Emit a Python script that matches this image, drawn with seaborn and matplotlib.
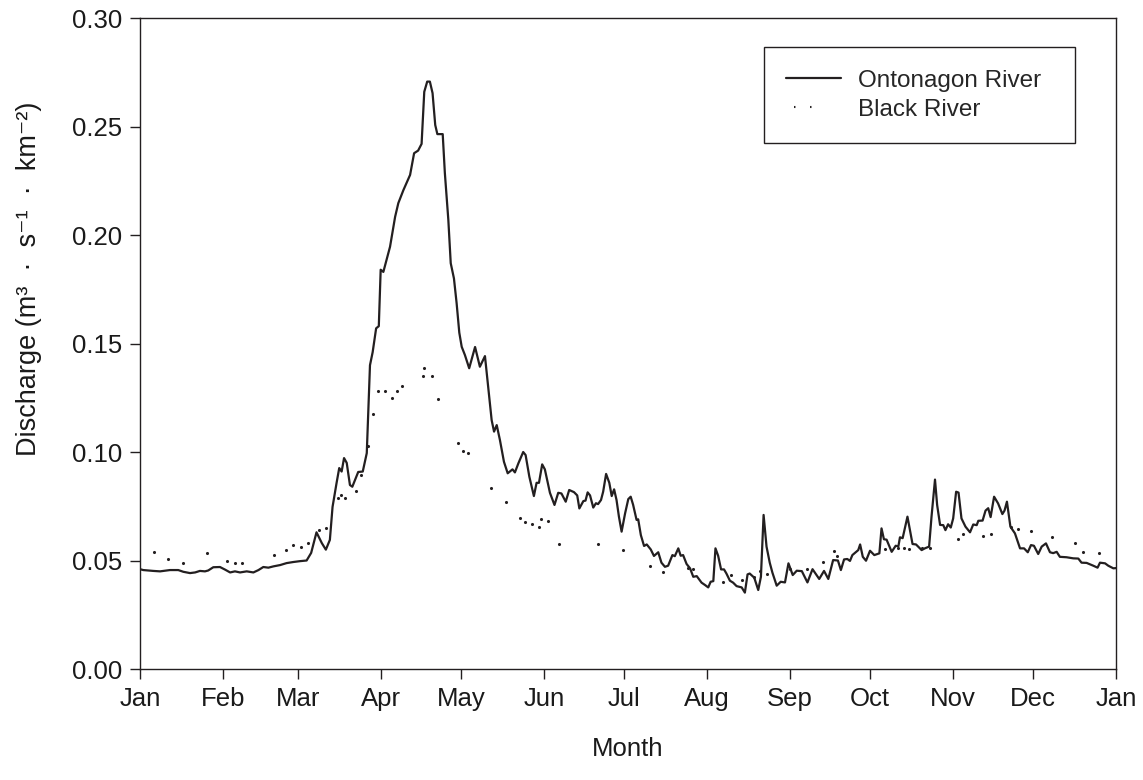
import matplotlib
matplotlib.use("Agg")
import matplotlib.pyplot as plt
from matplotlib.lines import Line2D
import seaborn as sns

# Daily discharge (day of year, m3 s-1 km-2)
ont_day = [0, 1.2, 5, 7.5, 11.2, 14.3, 16.2, 18.7, 20.6, 22.4,
           24.3, 25.5, 27.4, 29.9, 31.8, 33.7, 35.5, 37.4, 39.9, 42.4,
           44.3, 46.1, 48, 49.9, 52.4, 54.8, 57.3, 59.8, 62.3, 64,
           66, 68, 69.5, 71, 72, 73.5, 74.5, 75.4, 76.3, 77.3,
           78.5, 79.4, 81.6, 83.3, 84.8, 86, 87, 88.3, 89.3, 90,
           91, 93.5, 95.4, 96.6, 98.5, 101, 102.5, 104, 105.3, 106.3,
           107.4, 108.4, 109.4, 110.4, 111.2, 113.2, 114, 115.3, 116.2, 117.4,
           118.4, 119.4, 120.3, 121.5, 123.1, 125.3, 127.1, 129, 130.3, 131.5,
           132.4, 133.4, 134.6, 136.1, 137.5, 139.3, 140.2, 141.5, 143.3, 144.2,
           145.6, 147.3, 148.3, 149.2, 150.4, 151.4, 153.3, 155, 156.4, 157.6,
           159.2, 160.5, 162.3, 163.5, 164.3, 165.8, 166.6, 167.4, 168.3, 169.5,
           170.5, 171.3, 172.4, 173.2, 174.3, 175.5, 176.4, 177.3, 178.2, 179.1,
           180.1, 181.4, 182.6, 183.5, 184.4, 185.7, 186.3, 187.3, 188.5, 189.5,
           191, 192.2, 193.8, 195, 196.3, 197.5, 199.1, 200, 201.3, 202.2,
           203.1, 204.4, 205.7, 206.9, 208.2, 210, 211.3, 212.5, 213.4, 214.4,
           215.2, 216.2, 217.3, 218.4, 219.3, 220.6, 221.8, 223.1, 225, 226.2,
           227.2, 228, 229.7, 231.2, 232.2, 233.2, 234.3, 235.5, 236.5, 238.1,
           239.6, 241.2, 242.5, 244.1, 245.6, 247.5, 249.6, 251.5, 254, 255.8,
           257.4, 259.2, 261, 262.1, 263.3, 264.5, 265.5, 266.4, 268.6, 269.3,
           270.3, 271.5, 273, 274.6, 276.5, 277.3, 278.2, 279.2, 281.1, 282.6,
           283.6, 284.2, 285.2, 287, 288.9, 290.2, 292.3, 293.5, 295.1, 296,
           297.3, 298.1, 299.2, 300.4, 301.2, 302.2, 303.2, 304.1, 305.2, 306.1,
           307.2, 308.7, 310.4, 311.6, 312.9, 313.5, 315.1, 316.2, 317.2, 318.1,
           319.4, 320.9, 322.5, 323.3, 324.2, 325.5, 327.2, 329.1, 330.6, 332,
           333.2, 334.3, 335.9, 337.2, 338.8, 340.3, 341.5, 342.8, 344, 346.5,
           349, 350.9, 352.1, 354, 356.5, 358.1, 359, 360.9, 362.1, 364,
           365]
ont_q = [0.046, 0.0456, 0.0452, 0.045, 0.0456, 0.0456, 0.0448, 0.0442, 0.0445, 0.0452,
         0.045, 0.0454, 0.0469, 0.047, 0.0458, 0.0445, 0.045, 0.0445, 0.045, 0.0445,
         0.0456, 0.047, 0.0467, 0.0473, 0.0479, 0.0488, 0.0493, 0.0497, 0.050, 0.0535,
         0.063, 0.058, 0.055, 0.0595, 0.0747, 0.0857, 0.0926, 0.091, 0.0972, 0.095,
         0.0848, 0.084, 0.0908, 0.091, 0.0995, 0.140, 0.146, 0.157, 0.158, 0.184,
         0.183, 0.1946, 0.2084, 0.2147, 0.2207, 0.2277, 0.2377, 0.2389, 0.242, 0.266,
         0.2707, 0.2707, 0.2654, 0.2507, 0.2465, 0.2465, 0.2286, 0.207, 0.187, 0.180,
         0.1686, 0.155, 0.1485, 0.1447, 0.1386, 0.1484, 0.1393, 0.1442, 0.1286, 0.1147,
         0.1094, 0.1124, 0.1055, 0.0955, 0.0902, 0.092, 0.0906, 0.0948, 0.100, 0.0986,
         0.0886, 0.0797, 0.0858, 0.0858, 0.0943, 0.092, 0.0812, 0.0756, 0.0812, 0.0809,
         0.0771, 0.0825, 0.0815, 0.080, 0.074, 0.0774, 0.0776, 0.0814, 0.080, 0.0744,
         0.0764, 0.076, 0.0779, 0.0817, 0.0899, 0.0858, 0.0797, 0.0828, 0.0779, 0.0702,
         0.0633, 0.0717, 0.0783, 0.0794, 0.0757, 0.0687, 0.069, 0.0617, 0.0567, 0.0574,
         0.0551, 0.0521, 0.0538, 0.049, 0.0471, 0.0476, 0.0525, 0.052, 0.0556, 0.0522,
         0.0525, 0.0484, 0.0464, 0.0425, 0.0428, 0.0398, 0.0387, 0.0376, 0.0402, 0.0405,
         0.0556, 0.0522, 0.0459, 0.0459, 0.044, 0.0407, 0.0398, 0.0382, 0.0376, 0.0352,
         0.0436, 0.044, 0.0421, 0.0364, 0.0425, 0.071, 0.0564, 0.049, 0.0444, 0.0384,
         0.0402, 0.0399, 0.0487, 0.0433, 0.0453, 0.0451, 0.0399, 0.046, 0.0415, 0.0452,
         0.0415, 0.0502, 0.05, 0.0456, 0.0505, 0.0507, 0.0498, 0.0525, 0.0548, 0.0574,
         0.0517, 0.0499, 0.0545, 0.0525, 0.0533, 0.0648, 0.0598, 0.0596, 0.054, 0.0568,
         0.0565, 0.0607, 0.0603, 0.0702, 0.0576, 0.0574, 0.0548, 0.0556, 0.0564, 0.0702,
         0.0873, 0.0756, 0.0664, 0.0663, 0.064, 0.0667, 0.0652, 0.0694, 0.0817, 0.0813,
         0.0694, 0.0656, 0.063, 0.0666, 0.0663, 0.0683, 0.0684, 0.073, 0.0741, 0.07,
         0.0794, 0.0763, 0.0714, 0.073, 0.0771, 0.0656, 0.0625, 0.0556, 0.0556, 0.0538,
         0.0571, 0.0568, 0.053, 0.0564, 0.0579, 0.0538, 0.0534, 0.054, 0.0517, 0.0515,
         0.051, 0.0509, 0.049, 0.0489, 0.0476, 0.0467, 0.049, 0.0487, 0.0476, 0.0464,
         0.0465]

# Black River is drawn as sparse dots in the original
blk_day = [5.2, 10.5, 16.1, 24.9, 32.5, 35.5, 38, 50.1, 54.5, 57.2,
           60.2, 62.8, 67.1, 69.4, 73.9, 75.2, 76.7, 80.8, 82.5, 85.3,
           87.2, 89.1, 91.7, 94.1, 96, 97.8, 105.7, 106.2, 109.1, 111.5,
           118.8, 120.9, 122.7, 131.1, 136.8, 142.1, 144, 146.7, 149.2, 150,
           152.7, 156.7, 171.4, 180.5, 190.7, 195.4, 204.8, 206.7, 217.9, 220.9,
           225, 229.7, 231.8, 234.3, 243.1, 249.3, 255.3, 259.5, 260.7, 278.6,
           283.3, 285.7, 287.6, 292.3, 295.4, 306, 307.9, 315.3, 318.1, 325.7,
           328.4, 333.2, 341.2, 349.7, 352.8, 358.7]
blk_q = [0.054, 0.0507, 0.049, 0.0534, 0.050, 0.049, 0.0488, 0.0525, 0.0548, 0.057,
         0.056, 0.0582, 0.064, 0.065, 0.079, 0.080, 0.079, 0.0822, 0.0894, 0.103,
         0.1175, 0.128, 0.128, 0.1249, 0.128, 0.1306, 0.135, 0.1386, 0.1348, 0.1243,
         0.104, 0.1006, 0.0994, 0.0836, 0.0771, 0.0697, 0.0676, 0.0668, 0.0653, 0.069,
         0.0684, 0.0577, 0.0574, 0.0548, 0.0476, 0.0448, 0.0464, 0.0462, 0.0402, 0.0433,
         0.041, 0.0425, 0.0452, 0.0437, 0.0462, 0.0461, 0.0494, 0.0545, 0.0522, 0.0555,
         0.0559, 0.0559, 0.0555, 0.0556, 0.0559, 0.0598, 0.062, 0.0614, 0.0622, 0.0656,
         0.0645, 0.0637, 0.061, 0.0582, 0.054, 0.0536]

month_starts = [0, 31, 59, 90, 120, 151, 181, 212, 243, 273, 304, 334, 365]
month_labels = ['Jan', 'Feb', 'Mar', 'Apr', 'May', 'Jun', 'Jul', 'Aug',
                'Sep', 'Oct', 'Nov', 'Dec', 'Jan']

sns.set_theme(style="ticks")
plt.rcParams['font.family'] = ['Liberation Sans', 'DejaVu Sans']

ink = '#231f20'
fig = plt.figure(figsize=(11.43, 7.8), dpi=100)
ax = fig.add_axes([0.1225, 0.1423, 0.8539, 0.8346])

sns.lineplot(x=ont_day, y=ont_q, ax=ax, color=ink, linewidth=1.6,
             estimator=None, sort=False)
sns.scatterplot(x=blk_day, y=blk_q, ax=ax, color=ink, s=5, linewidth=0,
                marker='o')

ax.set_xlim(0, 365)
ax.set_ylim(0, 0.30)
ax.set_xticks(month_starts)
ax.set_xticklabels(month_labels)
ax.set_yticks([0, 0.05, 0.10, 0.15, 0.20, 0.25, 0.30])
ax.set_yticklabels(['0.00', '0.05', '0.10', '0.15', '0.20', '0.25', '0.30'])
ax.tick_params(axis='both', direction='out', length=7, width=1,
               color=ink, labelsize=18.5, labelcolor='#1a1a1a', pad=6)
for sp in ax.spines.values():
    sp.set_visible(True)
    sp.set_linewidth(1.0)
    sp.set_color(ink)

ax.set_xlabel('Month', fontsize=18.5, labelpad=19, color='#1a1a1a')
ax.set_ylabel('Discharge (m\u00b3  \u00b7  s\u207b\u00b9  \u00b7  km\u207b\u00b2)',
              fontsize=19.5, color='#1a1a1a')
ax.yaxis.set_label_coords(-0.10, 0.60)

# legend handles: solid line and a two-dot pattern
h_ont = Line2D([], [], color=ink, linewidth=1.6)
h_blk = Line2D([], [], color=ink, linewidth=1.5,
               linestyle=(44.56, (0.7, 7.0, 0.7, 40.0)))
leg = ax.legend([h_ont, h_blk], ['Ontonagon River', 'Black River'],
                loc='upper left', bbox_to_anchor=(0.6393, 0.6, 0.3187, 0.355),
                mode='expand', borderaxespad=0, fontsize=17.5, frameon=True,
                fancybox=False, handlelength=2.26, handletextpad=0.7,
                labelspacing=0.3, borderpad=0.92)
leg.get_frame().set_edgecolor(ink)
leg.get_frame().set_linewidth(1.0)
leg.get_frame().set_alpha(1)

fig.savefig('out.png', dpi=100)
